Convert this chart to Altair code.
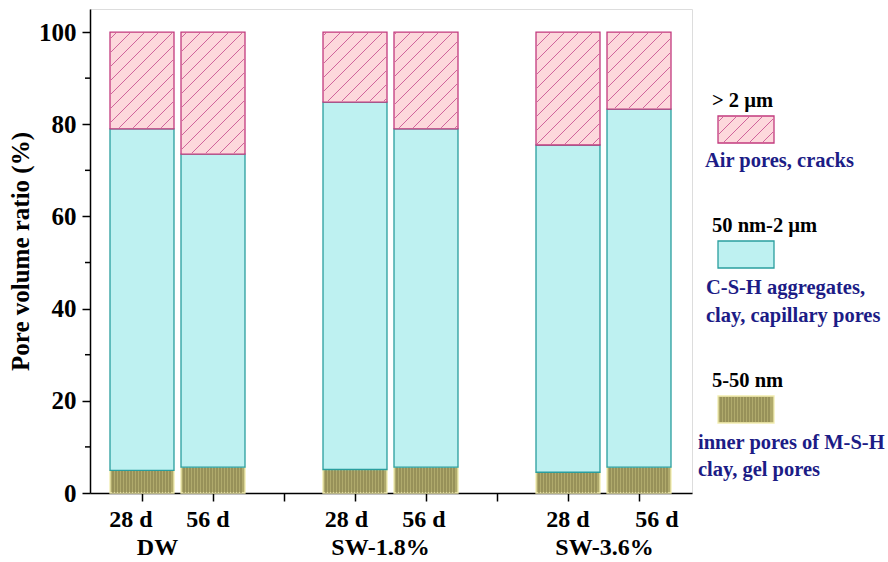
import math
import altair as alt
import pandas as pd

# ---------------- data ----------------
bar_group = ["DW", "DW", "SW-1.8%", "SW-1.8%", "SW-3.6%", "SW-3.6%"]
bar_age = ["28 d", "56 d", "28 d", "56 d", "28 d", "56 d"]
bar_pos = [1, 2, 4, 5, 7, 8]
pore_5_50nm = [4.9, 5.6, 5.1, 5.6, 4.5, 5.6]          # 5-50 nm (%)
pore_50nm_2um = [74.1, 67.9, 79.7, 73.4, 71.0, 77.7]  # 50 nm-2 µm (%)
pore_gt_2um = [21.0, 26.5, 15.2, 21.0, 24.5, 16.7]    # > 2 µm (%)

groups = ["DW", "SW-1.8%", "SW-3.6%"]
y_ticks = [0, 20, 40, 60, 80, 100]
y_minor = [10, 30, 50, 70, 90]
x_ticks = [1, 2, 3, 4, 5, 6, 7, 8]

classes = ["5-50 nm", "50 nm-2 µm", "> 2 µm"]
legend_head = ["> 2 µm", "50 nm-2 µm", "5-50 nm"]
legend_desc = [["Air pores, cracks"],
               ["C-S-H aggregates,", "clay, capillary pores"],
               ["inner pores of M-S-H", "clay, gel pores"]]

# ---------------- styling ----------------
FONT = "Liberation Serif"
W, H = 602, 484
XMIN, XMAX = 0.2676, 8.7465
YMAX = 105
BAR_PX = 64
PX_X = W / (XMAX - XMIN)
PX_Y = H / YMAX
fills = {"5-50 nm": "#B0AA6C", "50 nm-2 µm": "#BEF1F1", "> 2 µm": "#FDD8DC"}
strokes = {"5-50 nm": "#F2EDB0", "50 nm-2 µm": "#2A9E9E", "> 2 µm": "#C23A7E"}
HATCH = "#D0639B"
STRIPE = "#8A8450"
NAVY = "#1C1C86"
tick_label_nudge_px = [-11, -5, -8.5, -2, 0, 18]
TICK_LABEL_Y = 510.5
group_label_nudge_px = [-20, -10, 1]
GROUP_LABEL_Y = 539

# legend layout (pixels from plot origin)
leg_sw_x = (628, 684)
leg_sw_y = [(107, 134), (232, 259), (387, 414)]
leg_head_xy = [(622, 92), (622, 217), (622, 372)]
leg_desc_xy = [[(615, 152)], [(616, 279), (616, 307)], [(608, 434), (608, 461)]]

xscale = alt.Scale(domain=[XMIN, XMAX], nice=False, zero=False, padding=0)
yscale = alt.Scale(domain=[0, YMAX], nice=False, zero=True, padding=0)

xaxis = alt.Axis(
    values=x_ticks, labels=False, title=None, grid=False,
    tickSize=8, tickWidth=1.5, tickColor="black", domainColor="black",
    domainWidth=1.5)
yaxis = alt.Axis(
    values=y_ticks, title="Pore volume ratio (%)", grid=False,
    tickSize=8, tickWidth=1.5, tickColor="black", domainColor="black",
    domainWidth=1.5, labelFont=FONT, labelFontSize=25, labelFontWeight="bold",
    labelColor="black", labelPadding=6, titleFont=FONT, titleFontSize=25,
    titleFontWeight="bold", titleColor="black", titlePadding=5,
    labelFlush=False, labelOverlap=False)

# ---------------- tables ----------------
rows = []
for i in range(len(bar_pos)):
    vals = [pore_5_50nm[i], pore_50nm_2um[i], pore_gt_2um[i]]
    base = 0.0
    for k, c in enumerate(classes):
        rows.append({"pos": bar_pos[i], "group": bar_group[i], "age": bar_age[i],
                     "cls": c, "order": k, "y0": base, "y1": base + vals[k]})
        base += vals[k]
seg = pd.DataFrame(rows)


def hatch(X0, X1, Y0, Y1, spacing):
    """Segments of lines y = x + c (y up) clipped to a rectangle."""
    out = []
    c = math.floor((Y0 - X1) / spacing) * spacing
    while c <= Y1 - X0:
        xa, xb = max(X0, Y0 - c), min(X1, Y1 - c)
        if xb - xa > 0.8:
            out.append((xa, xa + c, xb, xb + c))
        c += spacing
    return out


hrows, srows = [], []
for _, r in seg.iterrows():
    cx = (r["pos"] - XMIN) * PX_X
    if r["cls"] == "> 2 µm":
        for (xa, ya, xb, yb) in hatch(cx - BAR_PX / 2 + 1, cx + BAR_PX / 2 - 1,
                                      r["y0"] * PX_Y + 1, r["y1"] * PX_Y - 1, 14):
            hrows.append({"hx": XMIN + xa / PX_X, "hy": ya / PX_Y,
                          "hx2": XMIN + xb / PX_X, "hy2": yb / PX_Y})
    if r["cls"] == "5-50 nm":
        px = cx - BAR_PX / 2 + 3
        while px < cx + BAR_PX / 2 - 2:
            srows.append({"sx": XMIN + px / PX_X, "sy": r["y0"], "sy2": r["y1"]})
            px += 3
hdf = pd.DataFrame(hrows)
sdf = pd.DataFrame(srows)


def layer_cls(c):
    return alt.Chart(seg).transform_filter(alt.datum.cls == c).mark_bar(
        size=BAR_PX, orient="vertical", strokeWidth=1.3,
        fill=fills[c], stroke=strokes[c]).encode(
        x=alt.X("pos:Q", scale=xscale, axis=xaxis),
        y=alt.Y("y0:Q", scale=yscale, axis=yaxis),
        y2="y1:Q",
    )


hatch_layer = alt.Chart(hdf).mark_rule(color=HATCH, strokeWidth=1).encode(
    x=alt.X("hx:Q", scale=xscale, axis=xaxis), x2="hx2:Q",
    y=alt.Y("hy:Q", scale=yscale, axis=yaxis), y2="hy2:Q",
)

stripe_layer = alt.Chart(sdf).mark_rule(color=STRIPE, strokeWidth=1.3).encode(
    x=alt.X("sx:Q", scale=xscale, axis=xaxis),
    y=alt.Y("sy:Q", scale=yscale, axis=yaxis), y2="sy2:Q",
)

minor = alt.Chart(pd.DataFrame({"v": y_minor})).mark_rule(
    color="black", strokeWidth=1.5).encode(
    y=alt.Y("v:Q", scale=yscale, axis=yaxis),
    x=alt.value(-5), x2=alt.value(0),
)

tlab = alt.Chart(pd.DataFrame({
    "t": bar_age,
    "tx": [p + n / PX_X for p, n in zip(bar_pos, tick_label_nudge_px)],
})).mark_text(font=FONT, fontSize=24, fontWeight="bold", color="black",
              baseline="middle", align="center").encode(
    x=alt.X("tx:Q", scale=xscale, axis=xaxis),
    y=alt.value(TICK_LABEL_Y),
    text="t:N",
)

mid = [(bar_pos[2 * i] + bar_pos[2 * i + 1]) / 2 + group_label_nudge_px[i] / PX_X
       for i in range(len(groups))]
glabels = alt.Chart(pd.DataFrame({"g": groups, "gx": mid})).mark_text(
    font=FONT, fontSize=24, fontWeight="bold", color="black",
    baseline="middle", align="center").encode(
    x=alt.X("gx:Q", scale=xscale, axis=xaxis),
    y=alt.value(GROUP_LABEL_Y),
    text="g:N",
)

# ---------------- legend ----------------
leg_cls = ["> 2 µm", "50 nm-2 µm", "5-50 nm"]
sw = pd.DataFrame({
    "lx": [leg_sw_x[0]] * 3, "lx2": [leg_sw_x[1]] * 3,
    "ly": [a for a, b in leg_sw_y], "ly2": [b for a, b in leg_sw_y],
    "f": [fills[c] for c in leg_cls], "s": [strokes[c] for c in leg_cls],
})
swatch = alt.Chart(sw).mark_rect(strokeWidth=1.3).encode(
    x=alt.X("lx:Q", scale=None, axis=None), x2="lx2:Q",
    y=alt.Y("ly:Q", scale=None, axis=None), y2="ly2:Q",
    fill=alt.Fill("f:N", scale=None), stroke=alt.Stroke("s:N", scale=None),
)

lh = []
y0, y1 = leg_sw_y[0]
for (xa, ya, xb, yb) in hatch(leg_sw_x[0] + 1, leg_sw_x[1] - 1, -y1 + 1, -y0 - 1, 13):
    lh.append({"a": xa, "b": -ya, "c": xb, "d": -yb})
leg_hatch = alt.Chart(pd.DataFrame(lh)).mark_rule(color=HATCH, strokeWidth=1).encode(
    x=alt.X("a:Q", scale=None, axis=None), x2="c:Q",
    y=alt.Y("b:Q", scale=None, axis=None), y2="d:Q",
)

ls = []
px = leg_sw_x[0] + 3
while px < leg_sw_x[1] - 2:
    ls.append({"a": px, "b": leg_sw_y[2][0] + 1, "d": leg_sw_y[2][1] - 1})
    px += 3
leg_stripe = alt.Chart(pd.DataFrame(ls)).mark_rule(color=STRIPE, strokeWidth=1.3).encode(
    x=alt.X("a:Q", scale=None, axis=None),
    y=alt.Y("b:Q", scale=None, axis=None), y2="d:Q",
)

trows = []
for i, h in enumerate(legend_head):
    trows.append({"t": h, "tx": leg_head_xy[i][0], "ty": leg_head_xy[i][1], "col": "black"})
    for j, d in enumerate(legend_desc[i]):
        trows.append({"t": d, "tx": leg_desc_xy[i][j][0], "ty": leg_desc_xy[i][j][1], "col": NAVY})
leg_text = alt.Chart(pd.DataFrame(trows)).mark_text(
    font=FONT, fontSize=20.5, fontWeight="bold", align="left", baseline="middle").encode(
    x=alt.X("tx:Q", scale=None, axis=None),
    y=alt.Y("ty:Q", scale=None, axis=None),
    text="t:N",
    color=alt.Color("col:N", scale=None),
)

chart = alt.layer(
    layer_cls(classes[0]), stripe_layer, layer_cls(classes[1]), layer_cls(classes[2]),
    hatch_layer, minor, tlab, glabels, swatch, leg_hatch, leg_stripe, leg_text,
).properties(
    width=W, height=H,
    autosize=alt.AutoSizeParams(type="none"),
    padding={"left": 90, "top": 9, "right": 888 - 90 - W, "bottom": 562 - 9 - H},
).configure_view(stroke="black", strokeWidth=1.5).configure(background="white")

chart.save("out.html", embed_options={"renderer": "svg", "actions": False})
